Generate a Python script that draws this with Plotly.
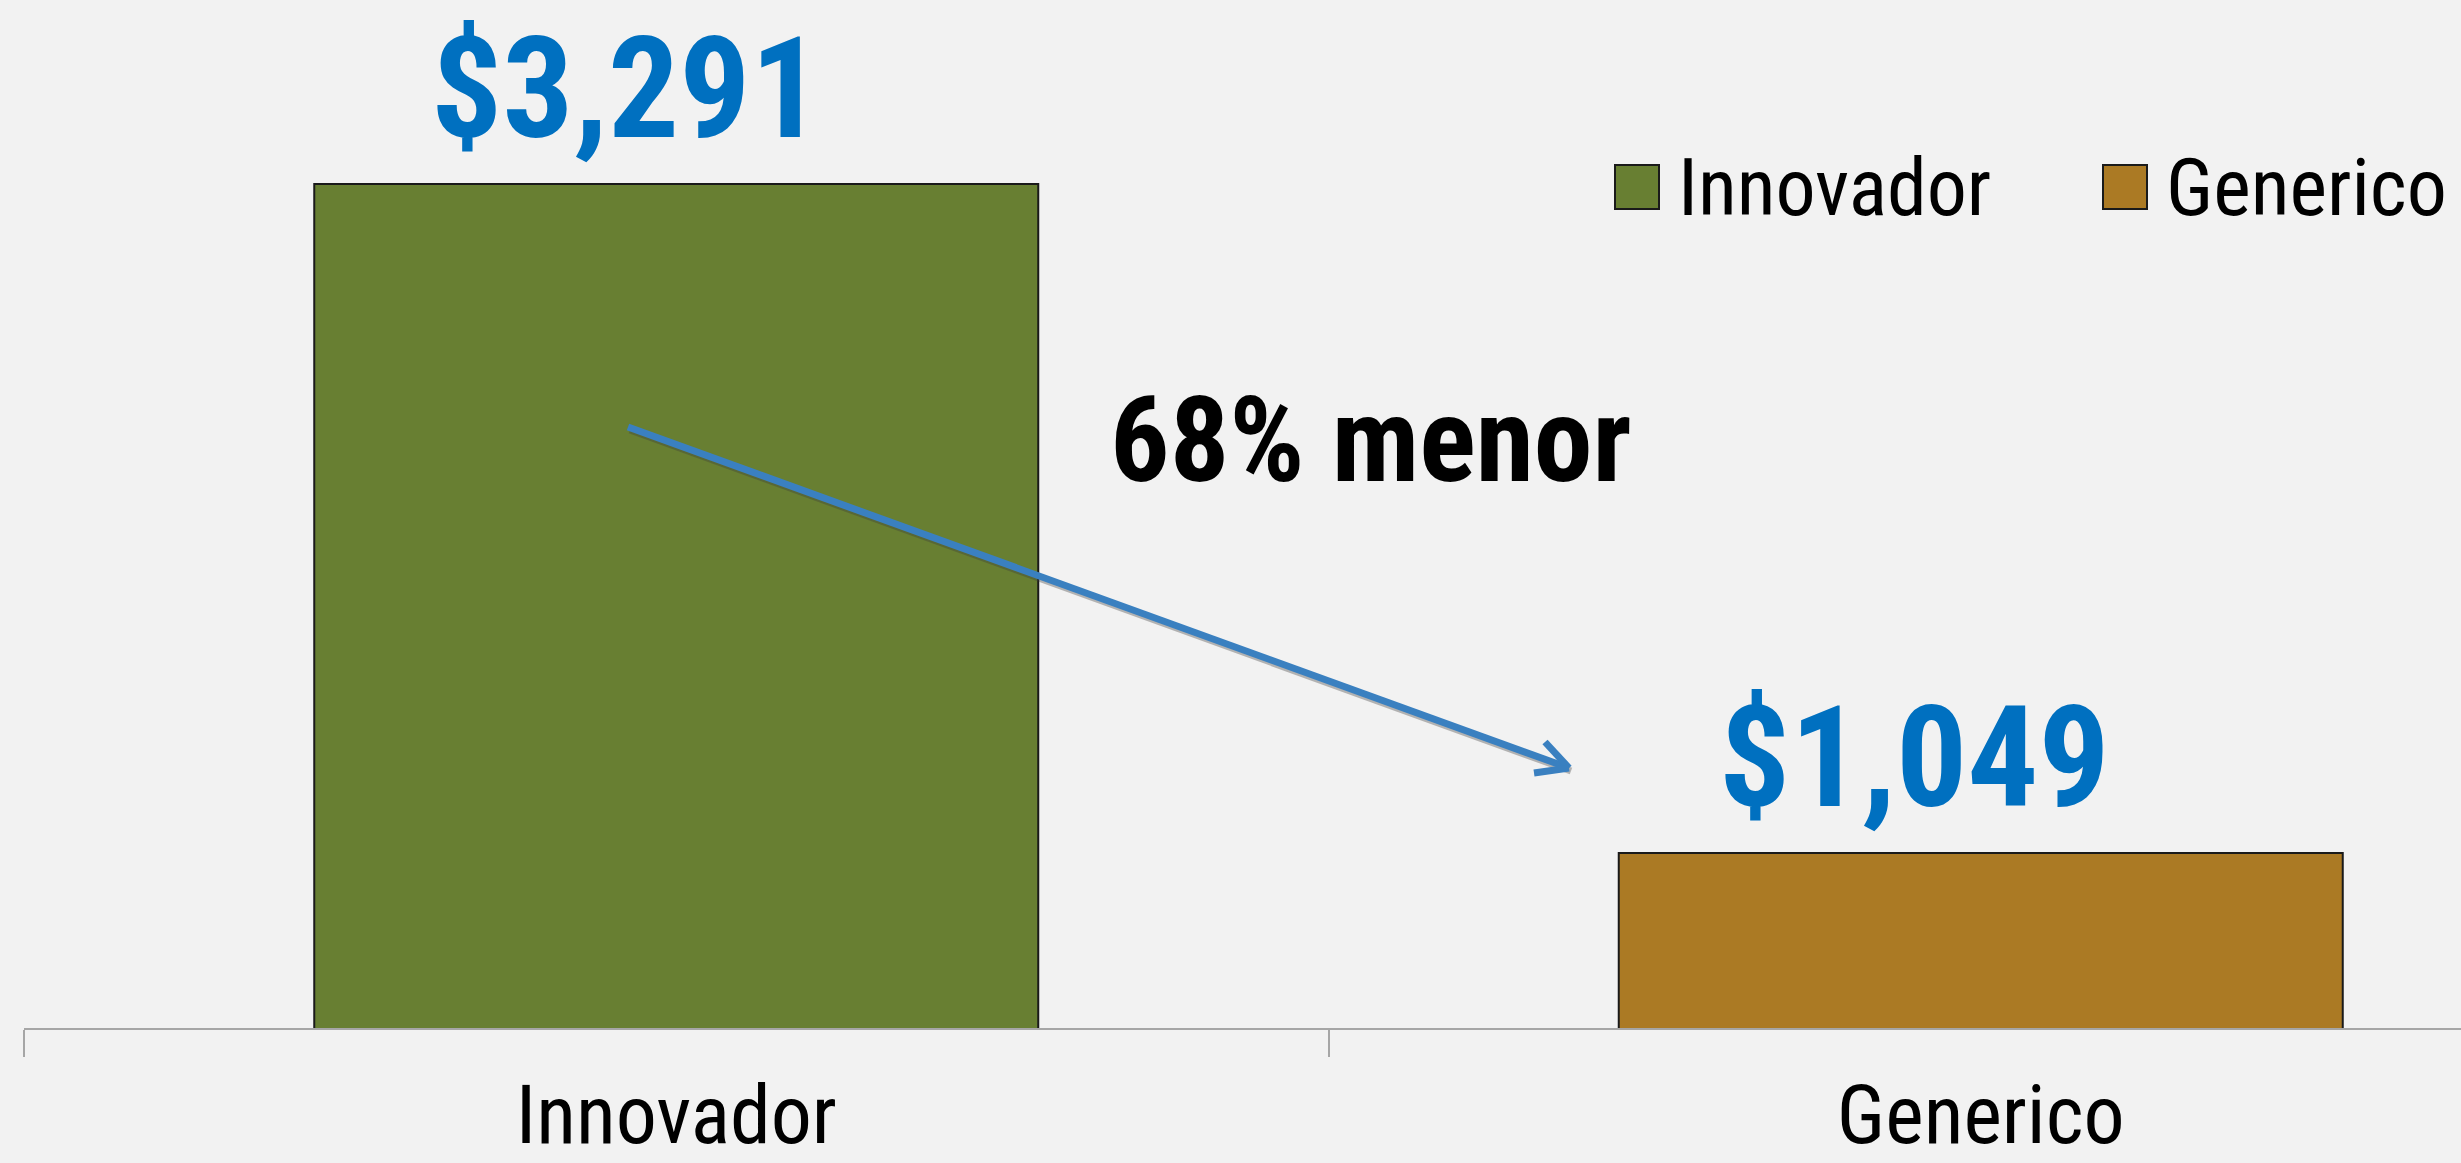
import plotly.graph_objects as go

categories = ["Innovador", "Generico"]
values = [3291, 1049]
bar_colors = ["#687F32", "#AB7A24"]
value_labels = ["$3,291", "$1,049"]
note_text = "68% menor"

W, H = 2461, 1163
ML, MR, MT, MB = 24, 0, 0, 135
PW, PH = W - ML - MR, H - MT - MB

def px(x):
    return (x - ML) / PW

def py(y):
    return 1 - (y - MT) / PH

FONT = "Roboto Condensed, Liberation Sans Narrow, Arial Narrow, sans-serif"

fig = go.Figure()
fig.add_trace(go.Bar(
    x=categories, y=values,
    marker=dict(color=bar_colors, line=dict(color="#1a1a1a", width=2)),
    showlegend=False, hoverinfo="skip",
))

annotations = []
label_xshift = [-50, -66]
for c, v, lab, xs in zip(categories, values, value_labels, label_xshift):
    annotations.append(dict(
        x=c, y=v, xref="x", yref="y", text=f"<b>{lab}</b>", showarrow=False,
        xanchor="center", yanchor="bottom", xshift=xs, yshift=11,
        font=dict(family=FONT, size=141, color="#0070C0"),
    ))

annotations.append(dict(
    x=px(1108), y=py(441), xref="paper", yref="paper", text=f"<b>{note_text}</b>",
    showarrow=False, xanchor="left", yanchor="middle",
    font=dict(family=FONT, size=118, color="#000000"),
))

# manual legend
legend_sq = [(1615, 165), (2103, 165)]
legend_tx = [1676, 2164]
shapes = []
for (sx, sy), tx, c, col in zip(legend_sq, legend_tx, categories, bar_colors):
    shapes.append(dict(type="rect", xref="paper", yref="paper",
                       x0=px(sx), x1=px(sx + 44), y0=py(sy + 44), y1=py(sy),
                       fillcolor=col, line=dict(color="#1a1a1a", width=2)))
    annotations.append(dict(x=px(tx), y=py(188), xref="paper", yref="paper",
                            text=c, showarrow=False, xanchor="left", yanchor="middle",
                            font=dict(family=FONT, size=80, color="#000000")))

# arrow
x0, y0, x1, y1 = 628, 427, 1569, 768
shapes.append(dict(type="line", xref="paper", yref="paper",
                   x0=px(x0 + 2), y0=py(y0 + 3), x1=px(x1 + 2), y1=py(y1 + 3),
                   line=dict(color="rgba(60,60,60,0.35)", width=7)))
shapes.append(dict(type="line", xref="paper", yref="paper",
                   x0=px(x0), y0=py(y0), x1=px(x1), y1=py(y1),
                   line=dict(color="#3A80C0", width=7)))
for ax_, ay_ in [(1545, 742), (1534, 773)]:
    shapes.append(dict(type="line", xref="paper", yref="paper",
                       x0=px(ax_), y0=py(ay_), x1=px(x1), y1=py(y1),
                       line=dict(color="#3A80C0", width=7)))

fig.update_layout(
    width=W, height=H,
    margin=dict(l=ML, r=MR, t=MT, b=MB),
    paper_bgcolor="#F2F2F2", plot_bgcolor="#F2F2F2",
    bargap=0.445,
    showlegend=False,
    annotations=annotations,
    shapes=shapes,
    xaxis=dict(
        range=[-0.5, -0.5 + PW / 1304.5],
        automargin=False,
        showline=True, linecolor="#A6A6A6", linewidth=2,
        ticks="outside", tickson="boundaries", ticklen=27, tickcolor="#A6A6A6", tickwidth=2,
        showgrid=False, zeroline=False,
        tickfont=dict(family=FONT, size=82, color="#000000"),
        ticklabelstandoff=15,
    ),
    yaxis=dict(
        range=[462.5, 3291 + 184 / (844 / (3291 - 462.5))],
        automargin=False,
        visible=False, showgrid=False, zeroline=False,
    ),
)

post = "document.body.style.margin='0';document.body.style.padding='0';"
fig.write_html("out.html", post_script=post, config={"displayModeBar": False})
